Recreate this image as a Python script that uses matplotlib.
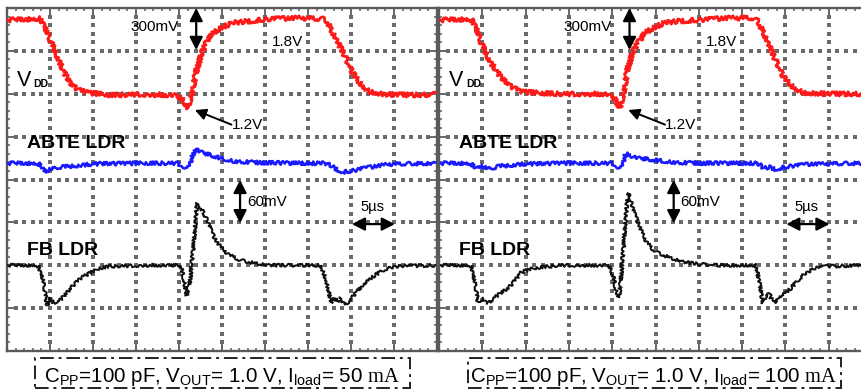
import matplotlib
matplotlib.use("Agg")
import numpy as np
import matplotlib.pyplot as plt
from matplotlib.patches import Rectangle
from matplotlib.ticker import MultipleLocator

plt.rcParams['font.family'] = ['Liberation Sans', 'DejaVu Sans']
plt.rcParams['mathtext.fontset'] = 'custom'
plt.rcParams['mathtext.rm'] = 'Liberation Sans'
plt.rcParams['mathtext.tt'] = 'Liberation Serif'

# scope settings (per division)
US_PER_DIV = 5.0
VDD_V_PER_DIV = 0.3
LDR_MV_PER_DIV = 60.0
VDD_REF_V, VDD_REF_DIV = 1.8, 7.72
ABTE_ZERO_DIV = 4.38
FB_ZERO_DIV = 2.0

# ---- capture 1: Iload = 50 mA ----
t_vdd_50 = [0.1, 3.8, 4.3, 5.0, 5.8, 6.5, 7.3, 8.3, 9.6, 12.0, 15.5, 19.0, 19.5, 20.3,
            21.05, 21.6, 22.1, 22.7, 23.3, 24.1, 25.0, 26.3, 28.3, 30.6, 34.1, 36.7,
            37.2, 37.9, 39.1, 40.2, 41.3, 42.2, 44.0, 46.9, 49.8]
v_vdd_50 = [1.80, 1.81, 1.765, 1.66, 1.555, 1.45, 1.36, 1.31, 1.29, 1.275, 1.28, 1.275,
            1.275, 1.25, 1.185, 1.325, 1.465, 1.575, 1.66, 1.715, 1.75, 1.78, 1.793,
            1.807, 1.814, 1.807, 1.793, 1.71, 1.57, 1.43, 1.34, 1.297, 1.28, 1.275, 1.28]

t_abte_50 = [0.1, 3.6, 4.1, 4.4, 5.0, 6.2, 8.5, 10.8, 16.6, 19.8, 20.5, 20.9, 21.4,
             21.9, 22.4, 23.3, 24.8, 26.5, 29.4, 34.1, 37.0, 37.6, 38.1, 39.1, 40.5,
             42.2, 44.5, 49.8]
mv_abte_50 = [0, 0, -5.6, -12.6, -8.4, -5.6, -2.8, -0.7, 0, 0, -4.2, -7, 4.2, 21, 16.8,
              12.6, 7, 2.8, 0.7, 0, 0, -2.8, -7, -12.6, -9.8, -5.6, -1.4, 0]

t_fb_50 = [0.1, 3.6, 4.2, 4.65, 5.0, 5.35, 5.9, 6.4, 7.0, 7.7, 8.7, 9.65, 10.8, 12.0,
           16.6, 20.2, 20.6, 20.9, 21.3, 21.5, 21.85, 22.1, 22.4, 22.8, 23.3, 23.8,
           24.4, 25.1, 25.9, 27.1, 28.8, 30.6, 36.5, 37.1, 37.7, 38.1, 38.5, 38.8,
           39.3, 39.9, 40.6, 41.4, 42.4, 43.7, 45.1, 49.8]
mv_fb_50 = [0, 0, -21, -56, -46, -52, -52, -46, -38, -28, -17, -11, -4, -1.4, 0, 0, -21,
            -42, -21, 4, 49, 87, 84, 74, 63, 46, 32, 22, 14, 7, 2.8, 0, 0, -21, -53, -46,
            -52, -46, -55, -49, -38, -27, -17, -7, -1.4, 0]

# ---- capture 2: Iload = 100 mA ----
t_vdd_100 = [0.2, 3.7, 4.2, 4.85, 6.0, 7.2, 8.2, 9.35, 11.1, 14.0, 17.4, 19.4, 20.2,
             20.9, 21.35, 21.8, 22.4, 23.0, 23.8, 24.5, 26.0, 27.8, 30.1, 33.6, 36.1,
             36.8, 37.5, 38.7, 39.8, 41.0, 42.15, 45.15, 48.9]
v_vdd_100 = [1.80, 1.807, 1.758, 1.64, 1.50, 1.395, 1.34, 1.30, 1.29, 1.283, 1.283,
             1.283, 1.255, 1.185, 1.31, 1.465, 1.576, 1.646, 1.71, 1.737, 1.78, 1.793,
             1.80, 1.814, 1.814, 1.793, 1.71, 1.54, 1.40, 1.325, 1.29, 1.283, 1.283]

t_abte_100 = [0.2, 3.6, 4.3, 5.0, 5.8, 7.0, 9.35, 14.0, 20.0, 20.55, 20.9, 21.25, 21.6,
              22.3, 23.2, 24.9, 27.25, 30.1, 36.5, 37.1, 37.5, 38.2, 38.8, 40.5, 42.8,
              48.9]
mv_abte_100 = [0, 0, -7, -4.2, -8.4, -4.2, -1.4, 0, 0, -4.2, -7, 2.8, 14, 9.8, 7, 4.2,
               1.4, 0, 0, -2.8, -7, -5.6, -8.4, -4.2, -1.4, 0]

t_fb_100 = [0.2, 3.7, 4.15, 4.5, 5.1, 5.4, 5.8, 6.35, 7.0, 8.0, 8.8, 9.5, 10.5, 11.7,
            14.0, 19.6, 20.1, 20.45, 20.8, 21.1, 21.45, 21.8, 22.05, 22.5, 23.1, 23.7,
            24.5, 25.3, 26.8, 28.4, 30.1, 32.45, 36.6, 36.95, 37.4, 37.75, 38.1, 38.45,
            38.7, 39.15, 39.6, 40.65, 41.45, 42.4, 43.4, 44.6, 48.9]
mv_fb_100 = [0, 0, -25, -52, -46, -52, -52, -46, -40, -32, -21, -10, -5.6, -2.8, 0, 0,
             -14, -35, -45, -7, 49, 101, 95, 74, 56, 38, 24, 17, 10, 4.2, 1.4, 0, 0, -21,
             -53, -42, -39, -49, -53, -45, -42, -32, -21, -10, -4.2, -1.4, 0]

captions = [r"C$_{\rm PP}$=100 pF, V$_{\rm OUT}$= 1.0 V, I$_{\rm load}$= 50 $\mathtt{mA}$",
            r"C$_{\rm PP}$=100 pF, V$_{\rm OUT}$= 1.0 V, I$_{\rm load}$= 100 $\mathtt{mA}$"]

RED, BLUE, BLACK = '#ff1a1a', '#1a1aff', '#111111'
FRAME = '#5a5a5a'


def noisy(line, amp):
    # scope traces are noisy; emulate with a sketch style
    line.set_sketch_params(scale=amp, length=2.0, randomness=6.0)


def scope_grid(ax):
    # dotted graticule: one dot every fifth of a division
    steps = np.arange(1, 50) * 0.2
    gx, gy = [], []
    for k in range(1, 10):
        ys = steps[steps < 7.99]
        gx += [k] * len(ys)
        gy += list(ys)
    for k in range(1, 8):
        gx += list(steps)
        gy += [k] * len(steps)
    ax.scatter(gx, gy, s=6, marker='s', color='#6a6a6a', linewidths=0, zorder=2)


def draw_panel(ax, t_vdd, v_vdd, t_abte, mv_abte, t_fb, mv_fb):
    ax.set_xlim(0, 10)
    ax.set_ylim(0, 8)
    ax.xaxis.set_major_locator(MultipleLocator(1))
    ax.yaxis.set_major_locator(MultipleLocator(1))
    ax.xaxis.set_minor_locator(MultipleLocator(0.2))
    ax.yaxis.set_minor_locator(MultipleLocator(0.2))
    ax.tick_params(which='both', direction='in', top=True, right=True,
                   labelbottom=False, labelleft=False, color=FRAME)
    ax.tick_params(which='major', length=5, width=1.3)
    ax.tick_params(which='minor', length=2.5, width=1.1)
    for s in ax.spines.values():
        s.set_color(FRAME)
        s.set_linewidth(1.7)
    scope_grid(ax)

    x = np.array(t_vdd) / US_PER_DIV
    y = VDD_REF_DIV + (np.array(v_vdd) - VDD_REF_V) / VDD_V_PER_DIV
    ln, = ax.plot(x, y, color=RED, lw=2.0, zorder=3)
    noisy(ln, 2.2)
    x = np.array(t_abte) / US_PER_DIV
    y = ABTE_ZERO_DIV + np.array(mv_abte) / LDR_MV_PER_DIV
    ln, = ax.plot(x, y, color=BLUE, lw=1.8, zorder=3)
    noisy(ln, 1.8)
    x = np.array(t_fb) / US_PER_DIV
    y = FB_ZERO_DIV + np.array(mv_fb) / LDR_MV_PER_DIV
    ln, = ax.plot(x, y, color=BLACK, lw=1.4, zorder=3)
    noisy(ln, 1.6)

    dbl = dict(arrowstyle='<|-|>,head_length=0.55,head_width=0.28', color='k',
               lw=1.6, mutation_scale=14, shrinkA=0, shrinkB=0)
    ax.annotate('', xy=(4.40, 8.0), xytext=(4.40, 7.02), arrowprops=dbl, annotation_clip=False)
    ax.annotate('', xy=(5.42, 3.99), xytext=(5.42, 2.98), arrowprops=dbl)
    ax.annotate('', xy=(8.02, 2.96), xytext=(9.02, 2.96), arrowprops=dbl)
    ax.annotate('', xy=(4.37, 5.62), xytext=(5.22, 5.28),
                arrowprops=dict(arrowstyle='-|>,head_length=0.55,head_width=0.28',
                                color='k', lw=1.4, mutation_scale=12, shrinkA=0, shrinkB=0))

    ax.text(3.44, 7.55, '300mV', fontsize=11, ha='center', va='center')
    ax.text(6.53, 7.20, '1.8V', fontsize=11, ha='center', va='center')
    ax.text(5.22, 5.27, '1.2V', fontsize=11, ha='left', va='center')
    ax.text(5.58, 3.47, '60mV', fontsize=11, ha='left', va='center')
    ax.text(8.49, 3.36, '5\u00b5s', fontsize=10.5, ha='center', va='center')
    ax.text(0.24, 6.18, 'V', fontsize=15.5, ha='left', va='baseline')
    ax.text(0.62, 6.15, 'DD', fontsize=7.5, fontweight='bold', ha='left', va='baseline')
    ax.text(0.47, 4.85, 'ABTE LDR', fontsize=14, fontweight='bold', ha='left', va='center')
    ax.text(0.47, 2.35, 'FB LDR', fontsize=14, fontweight='bold', ha='left', va='center')


fig = plt.figure(figsize=(8.62, 3.90), dpi=100)
ax1 = fig.add_axes([7 / 862, 39 / 390, 430 / 862, 343 / 390])
ax2 = fig.add_axes([439 / 862, 39 / 390, 433 / 862, 343 / 390])

draw_panel(ax1, t_vdd_50, v_vdd_50, t_abte_50, mv_abte_50, t_fb_50, mv_fb_50)
draw_panel(ax2, t_vdd_100, v_vdd_100, t_abte_100, mv_abte_100, t_fb_100, mv_fb_100)

# captions with dash-dot frames
for cx, bx, bw, cap in [(222, 35, 375, captions[0]), (654, 468, 373, captions[1])]:
    fig.text(cx / 862, 13 / 390, cap, fontsize=14.8, ha='center', va='center')
    fig.patches.append(Rectangle((bx / 862, 2 / 390), bw / 862, 30 / 390,
                                 transform=fig.transFigure, fill=False, ec='#222222',
                                 lw=1.4, linestyle=(0, (7, 2.5, 1.5, 2.5)), figure=fig))

fig.savefig('out.png', dpi=100)
